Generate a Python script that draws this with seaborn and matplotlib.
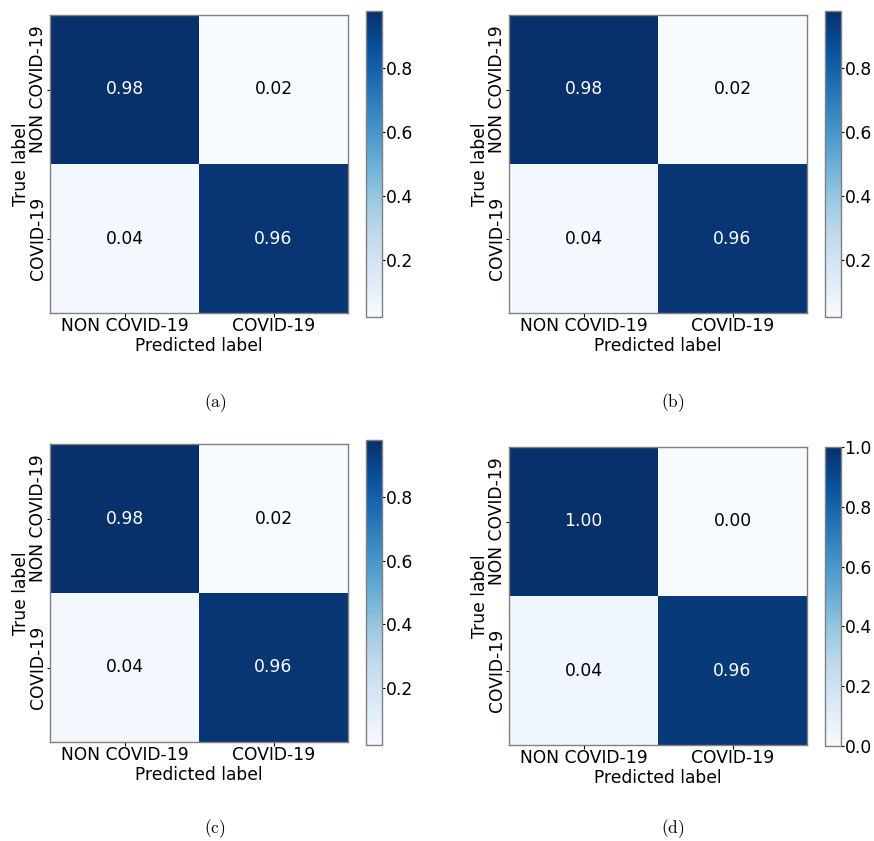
import numpy as np
import matplotlib
matplotlib.use("Agg")
import matplotlib.pyplot as plt
import seaborn as sns

# Class names shared by all four confusion matrices
classes = ["NON COVID-19", "COVID-19"]

# Normalised confusion matrices (rows: true label, columns: predicted label)
cm_a = [[0.98, 0.02], [0.04, 0.96]]
cm_b = [[0.98, 0.02], [0.04, 0.96]]
cm_c = [[0.98, 0.02], [0.04, 0.96]]
cm_d = [[1.00, 0.00], [0.04, 0.96]]

captions = ["(a)", "(b)", "(c)", "(d)"]

sns.set_style("ticks")
plt.rcParams["font.family"] = ["DejaVu Sans"]
plt.rcParams["mathtext.fontset"] = "cm"
for key in ("text.color", "axes.labelcolor", "xtick.color", "ytick.color"):
    plt.rcParams[key] = "black"

W, H = 874, 841
fig = plt.figure(figsize=(W / 100, H / 100), dpi=100)
fs = 12.3
edge = "#808080"


def box(x0, y0, x1, y1):
    """Pixel box (top-left origin) -> figure-fraction rect."""
    return [x0 / W, 1 - y1 / H, (x1 - x0) / W, (y1 - y0) / H]


# heatmap box, colorbar box, caption centre (pixels)
layout = [
    ((50, 15, 348, 313), (366, 11, 382, 317), (215, 403)),
    ((509, 15, 807, 313), (825, 11, 841, 317), (673, 403)),
    ((50, 444, 348, 742), (366, 440, 382, 745), (215, 829)),
    ((509, 447, 807, 745), (825, 447, 841, 746), (673, 829)),
]

for cm, cap, (hb, cb_box, cpos) in zip([cm_a, cm_b, cm_c, cm_d], captions, layout):
    ax = fig.add_axes(box(*hb))
    cax = fig.add_axes(box(*cb_box))
    sns.heatmap(np.array(cm), annot=True, fmt=".2f", cmap="Blues",
                xticklabels=classes, yticklabels=classes,
                ax=ax, cbar_ax=cax, annot_kws={"size": fs})
    for t in ax.texts:
        if t.get_color() not in ("w", "white"):
            t.set_color("black")
    for sp in ax.spines.values():
        sp.set_visible(True)
        sp.set_color(edge)
        sp.set_linewidth(1.0)
    ax.set_xticklabels(classes, rotation=0, fontsize=fs)
    ax.set_yticklabels(classes, rotation=90, va="center", fontsize=fs)
    ax.tick_params(axis="x", length=3, pad=0, width=0.8)
    ax.tick_params(axis="y", length=2, pad=0.5, width=0.8)
    ax.set_xlabel("Predicted label", fontsize=fs, labelpad=1)
    ax.set_ylabel("True label", fontsize=fs, labelpad=-1)

    cbar = ax.collections[0].colorbar
    cbar.outline.set_linewidth(1.0)
    cbar.outline.set_edgecolor(edge)
    cax.tick_params(labelsize=fs, length=2, width=0.8, pad=0.5)

    fig.text(cpos[0] / W, 1 - cpos[1] / H, r"$\mathrm{" + cap + "}$",
             ha="center", va="center", fontsize=12.5)

fig.savefig("out.png", dpi=100, facecolor="white")
